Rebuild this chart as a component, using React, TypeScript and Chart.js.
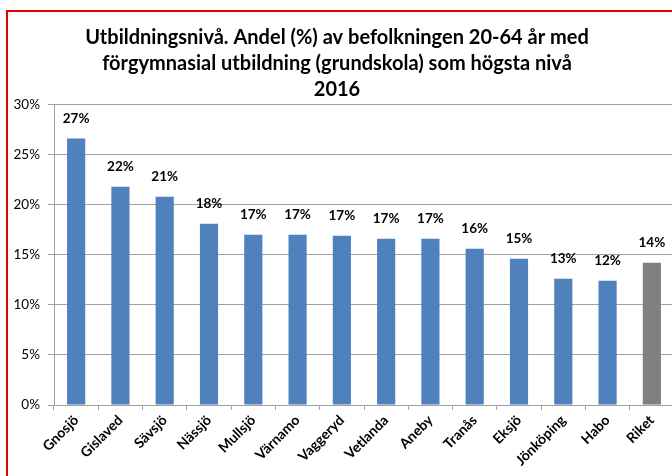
import React, { useEffect, useRef } from "react";
import { Chart, registerables } from "chart.js";

Chart.register(...registerables);

const titleLines = [
  "Utbildningsnivå. Andel (%) av befolkningen 20-64 år med",
  "förgymnasial utbildning (grundskola) som högsta nivå",
  "2016",
];
const categories = [
  "Gnosjö", "Gislaved", "Sävsjö", "Nässjö", "Mullsjö", "Värnamo", "Vaggeryd",
  "Vetlanda", "Aneby", "Tranås", "Eksjö", "Jönköping", "Habo", "Riket",
];
const values = [26.6, 21.8, 20.8, 18.1, 17.0, 17.0, 16.9, 16.6, 16.6, 15.6, 14.6, 12.6, 12.4, 14.2];
const barColors = [
  "#4F81BD", "#4F81BD", "#4F81BD", "#4F81BD", "#4F81BD", "#4F81BD", "#4F81BD",
  "#4F81BD", "#4F81BD", "#4F81BD", "#4F81BD", "#4F81BD", "#4F81BD", "#808080",
];
const yTicks = [0, 5, 10, 15, 20, 25, 30];

const FONT = "Lato, 'Open Sans', sans-serif";

const labelPlugin = {
  id: "barLabels",
  afterDatasetsDraw(chart: any) {
    const ctx = chart.ctx;
    const meta = chart.getDatasetMeta(0);
    ctx.save();
    ctx.font = `bold 13.5px ${FONT}`;
    ctx.fillStyle = "#000";
    ctx.textAlign = "center";
    ctx.textBaseline = "middle";
    meta.data.forEach((bar: any, i: number) => {
      ctx.fillText(Math.round(values[i]) + "%", bar.x, bar.y - 20);
    });
    ctx.restore();
  },
};

export default function App() {
  const ref = useRef<HTMLCanvasElement | null>(null);
  useEffect(() => {
    if (!ref.current) return;
    const chart = new Chart(ref.current, {
      type: "bar",
      data: {
        labels: categories,
        datasets: [
          {
            data: values,
            backgroundColor: barColors,
            barPercentage: 0.41,
            categoryPercentage: 1,
          },
        ],
      },
      options: {
        responsive: false,
        animation: false,
        layout: { padding: { left: 0, right: 0, top: 0, bottom: 0 } },
        plugins: {
          legend: { display: false },
          tooltip: { enabled: false },
          title: {
            display: true,
            text: titleLines,
            color: "#000",
            font: { family: FONT, size: 20, weight: "bold", lineHeight: 1.3 },
            padding: { top: 25, bottom: 1.5 },
          },
        },
        scales: {
          x: {
            afterFit: (s: any) => {
              s.height = 71;
            },
            grid: {
              display: true,
              drawOnChartArea: false,
              drawTicks: true,
              tickLength: 5,
              offset: true,
              color: "#A0A0A0",
            },
            border: { display: true, color: "#A0A0A0" },
            ticks: {
              autoSkip: false,
              minRotation: 45,
              maxRotation: 45,
              color: "#000",
              padding: 2,
              font: { family: FONT, size: 14, weight: "bold" },
            },
          },
          y: {
            min: 0,
            max: 30,
            afterFit: (s: any) => {
              s.width = 54;
            },
            afterBuildTicks: (s: any) => {
              s.ticks = yTicks.map((v) => ({ value: v }));
            },
            grid: {
              color: "#A0A0A0",
              tickLength: 6,
              drawTicks: true,
            },
            border: { display: true, color: "#A0A0A0" },
            ticks: {
              color: "#000",
              padding: 8,
              font: { family: FONT, size: 13.5 },
              callback: (v: any) => v + "%",
            },
          },
        },
      },
      plugins: [labelPlugin],
    });
    return () => chart.destroy();
  }, []);

  return (
    <div
      style={{
        position: "fixed",
        left: 0,
        top: 0,
        width: 672,
        height: 476,
        overflow: "hidden",
        background: "#fff",
      }}
    >
      <canvas ref={ref} width={674} height={476} style={{ position: "absolute", left: 0, top: 0, width: 674, height: 476 }} />
      <div
        style={{
          position: "absolute",
          left: 6,
          top: 10,
          width: 700,
          height: 500,
          borderLeft: "2px solid #E00000",
          borderTop: "2px solid #E00000",
          pointerEvents: "none",
        }}
      />
    </div>
  );
}
